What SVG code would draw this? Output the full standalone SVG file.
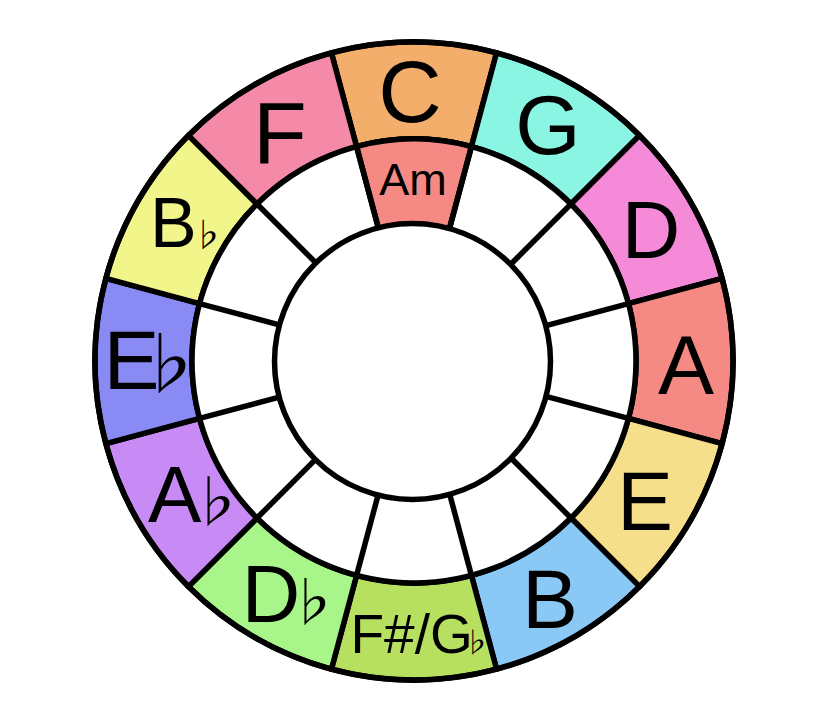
<svg xmlns="http://www.w3.org/2000/svg" width="835" height="723" viewBox="0 0 835 723">
<style>
.seg{stroke:#000;stroke-width:5.5;stroke-linejoin:round}
.ln{stroke:#000;stroke-width:5.5;fill:none}
.disc{stroke:#000;stroke-width:5.5;fill:#fff}
.lbl{font-family:"Liberation Sans",Arial,sans-serif;fill:#000;text-anchor:middle}
.st{text-anchor:start}
.fl{font-family:"Noto Sans CJK JP",sans-serif}
</style>
<rect width="835" height="723" fill="#fff"/>
<g id="key-C"><path class="seg" fill="#F4AE6C" d="M331.44,52.87 A319,319 0 0 1 496.56,52.87 L471.46,146.56 A222,222 0 0 0 356.54,146.56 Z"/><text class="lbl" x="410" y="122" font-size="88">C</text></g>
<g id="key-G"><path class="seg" fill="#8AF5E2" d="M496.56,52.87 A319,319 0 0 1 639.57,135.43 L570.98,204.02 A222,222 0 0 0 471.46,146.56 Z"/><text class="lbl" x="548" y="154" font-size="84">G</text></g>
<g id="key-D"><path class="seg" fill="#F58AD8" d="M639.57,135.43 A319,319 0 0 1 722.13,278.44 L628.44,303.54 A222,222 0 0 0 570.98,204.02 Z"/><text class="lbl" x="651" y="258" font-size="81">D</text></g>
<g id="key-A"><path class="seg" fill="#F58A85" d="M722.13,278.44 A319,319 0 0 1 722.13,443.56 L628.44,418.46 A222,222 0 0 0 628.44,303.54 Z"/><text class="lbl" x="686" y="394" font-size="84">A</text></g>
<g id="key-E"><path class="seg" fill="#F5DF8A" d="M722.13,443.56 A319,319 0 0 1 639.57,586.57 L570.98,517.98 A222,222 0 0 0 628.44,418.46 Z"/><text class="lbl" x="645" y="530" font-size="84">E</text></g>
<g id="key-B"><path class="seg" fill="#8AC8F5" d="M639.57,586.57 A319,319 0 0 1 496.56,669.13 L471.46,575.44 A222,222 0 0 0 570.98,517.98 Z"/><text class="lbl" x="550" y="628" font-size="84">B</text></g>
<g id="key-FsGb"><path class="seg" fill="#B8E060" d="M496.56,669.13 A319,319 0 0 1 331.44,669.13 L356.54,575.44 A222,222 0 0 0 471.46,575.44 Z"/><text class="lbl st" x="350.5" y="653" font-size="55">F#/G<tspan class="fl" dx="-10.3" font-size="28">♭</tspan></text></g>
<g id="key-Db"><path class="seg" fill="#A8F58A" d="M331.44,669.13 A319,319 0 0 1 188.43,586.57 L257.02,517.98 A222,222 0 0 0 356.54,575.44 Z"/><text class="lbl st" x="241.8" y="622" font-size="81">D<tspan class="fl" dx="-14.3" font-size="53">♭</tspan></text></g>
<g id="key-Ab"><path class="seg" fill="#C88AF5" d="M188.43,586.57 A319,319 0 0 1 105.87,443.56 L199.56,418.46 A222,222 0 0 0 257.02,517.98 Z"/><text class="lbl st" x="148" y="522" font-size="80">A<tspan class="fl" dx="-13.4" font-size="56">♭</tspan></text></g>
<g id="key-Eb"><path class="seg" fill="#8A8AF5" d="M105.87,443.56 A319,319 0 0 1 105.87,278.44 L199.56,303.54 A222,222 0 0 0 199.56,418.46 Z"/><text class="lbl st" x="103.4" y="389" font-size="84">E<tspan class="fl" dx="-24.4" font-size="68">♭</tspan></text></g>
<g id="key-Bb"><path class="seg" fill="#F2F58A" d="M105.87,278.44 A319,319 0 0 1 188.43,135.43 L257.02,204.02 A222,222 0 0 0 199.56,303.54 Z"/><text class="lbl st" x="149.9" y="247" font-size="70">B<tspan class="fl" dx="-5.6" font-size="33">♭</tspan></text></g>
<g id="key-F"><path class="seg" fill="#F58AA8" d="M188.43,135.43 A319,319 0 0 1 331.44,52.87 L356.54,146.56 A222,222 0 0 0 257.02,204.02 Z"/><text class="lbl" x="280" y="163" font-size="88">F</text></g>
<g id="minor-ring"><circle class="disc" cx="414" cy="361" r="222"/></g>
<g id="minor-Am"><path class="seg" fill="#F58A85" d="M356.54,146.56 A222,222 0 0 1 471.46,146.56 L446.35,240.26 A125,125 0 0 0 381.65,240.26 Z"/><text class="lbl" x="413" y="195" font-size="45">Am</text></g>
<g id="spokes" class="ln">
<line x1="471.46" y1="146.56" x2="446.35" y2="240.26"/>
<line x1="570.98" y1="204.02" x2="502.39" y2="272.61"/>
<line x1="628.44" y1="303.54" x2="534.74" y2="328.65"/>
<line x1="628.44" y1="418.46" x2="534.74" y2="393.35"/>
<line x1="570.98" y1="517.98" x2="502.39" y2="449.39"/>
<line x1="471.46" y1="575.44" x2="446.35" y2="481.74"/>
<line x1="356.54" y1="575.44" x2="381.65" y2="481.74"/>
<line x1="257.02" y1="517.98" x2="325.61" y2="449.39"/>
<line x1="199.56" y1="418.46" x2="293.26" y2="393.35"/>
<line x1="199.56" y1="303.54" x2="293.26" y2="328.65"/>
<line x1="257.02" y1="204.02" x2="325.61" y2="272.61"/>
<line x1="356.54" y1="146.56" x2="381.65" y2="240.26"/>
</g>
<g id="center"><circle class="disc" cx="412.5" cy="361.5" r="138"/></g>
<circle class="ln" cx="414" cy="361" r="319"/>
</svg>
